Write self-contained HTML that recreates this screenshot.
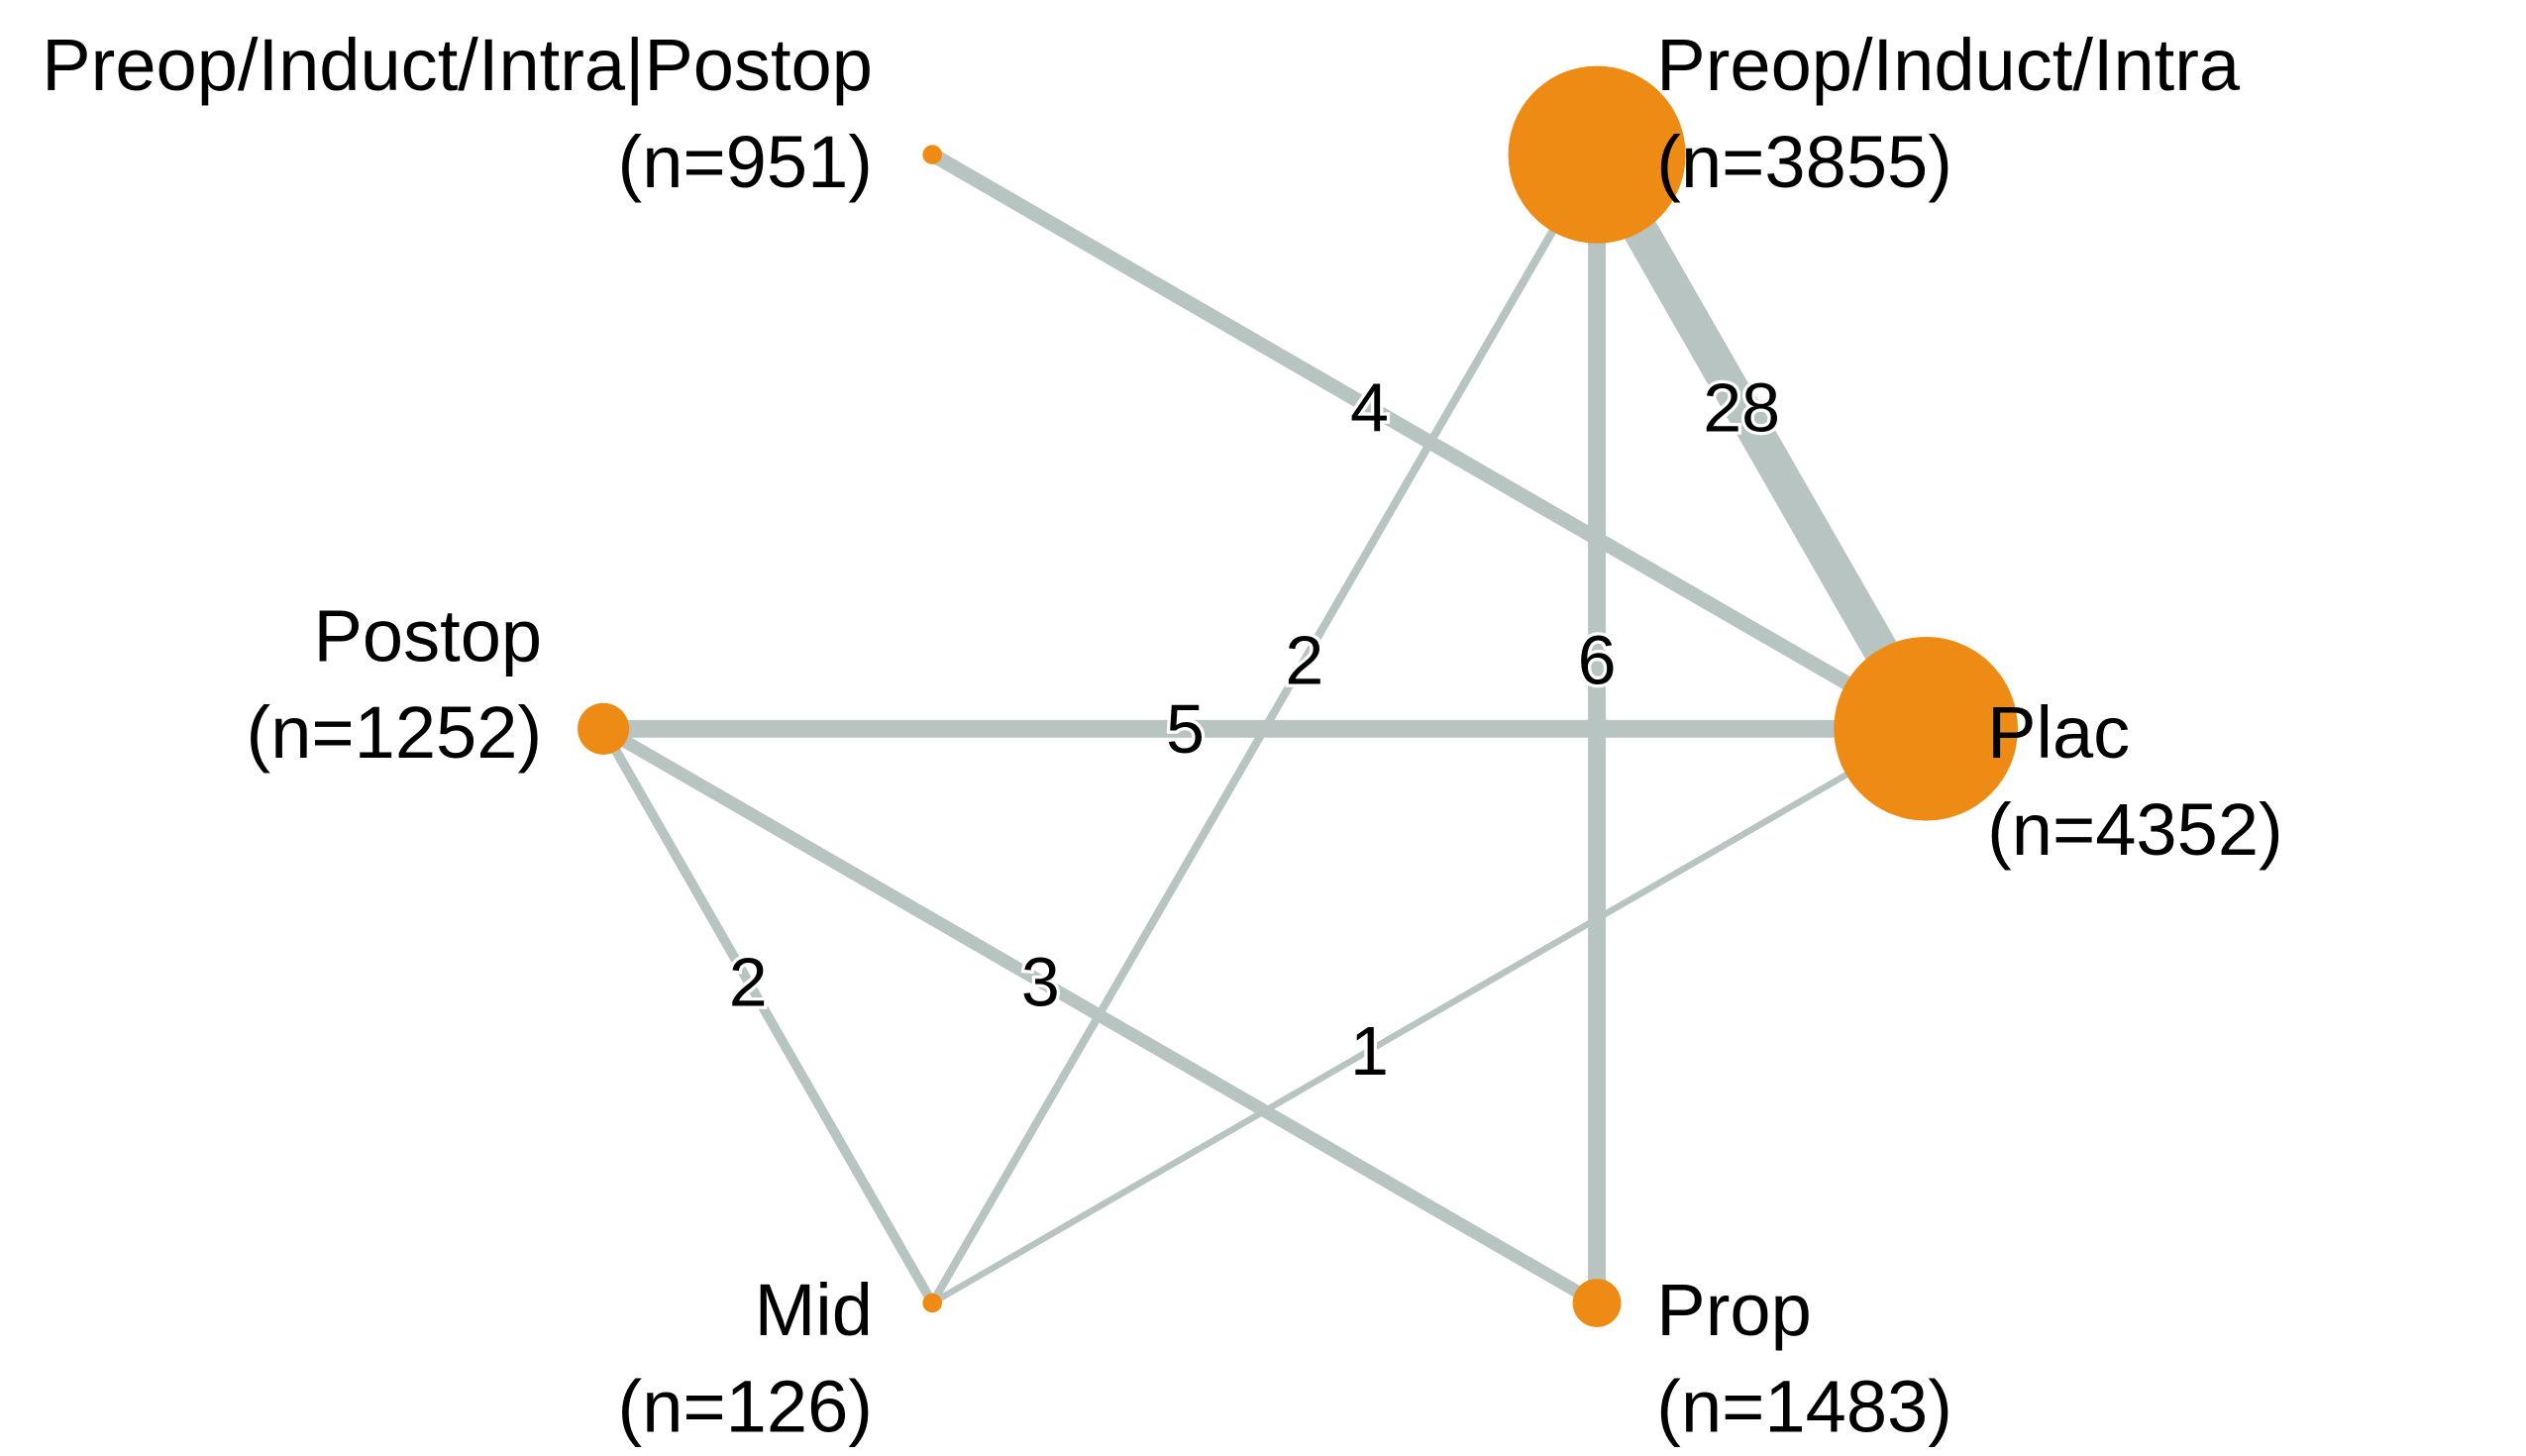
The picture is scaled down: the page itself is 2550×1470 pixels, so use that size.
<!DOCTYPE html>
<html><head><meta charset="utf-8">
<style>
html,body{margin:0;padding:0;background:#fff;}
svg{display:block;}
text{font-family:"Liberation Sans",Arial,sans-serif;}
</style></head>
<body>
<svg id="chart" width="2550" height="1470" viewBox="0 0 1566 903" preserveAspectRatio="none" xmlns="http://www.w3.org/2000/svg">
<g id="edges"></g>
<g id="nodes"></g>
<g id="labels"></g>
</svg>
<script>
const nodeNames = ["Preop/Induct/Intra|Postop","Preop/Induct/Intra","Plac","Prop","Mid","Postop"];
const nodeN = [951,3855,4352,1483,126,1252];
const nodeSize = [6,55,57,15,6,16];
const edgeFrom = [1,0,1,1,5,5,5,4];
const edgeTo   = [2,2,4,3,2,4,3,2];
const edgeCount = [28,4,2,6,5,2,3,1];
const edgeWidth = [22,9,5,11,11,6,8,4];

const NS="http://www.w3.org/2000/svg";
const cx=990-206, cy=452, R=412;
const angles=[-120,-60,0,60,120,180];
function px(i){return cx+R*Math.cos(angles[i]*Math.PI/180)*(i===2||i===5?0.995:1);}
function py(i){return cy+R*Math.sin(angles[i]*Math.PI/180)*0.998;}
const gE=document.getElementById('edges'),gN=document.getElementById('nodes'),gL=document.getElementById('labels');
function mk(tag,attrs,parent){const e=document.createElementNS(NS,tag);for(const k in attrs)e.setAttribute(k,attrs[k]);parent.appendChild(e);return e;}
for(let k=0;k<edgeFrom.length;k++){
  const a=edgeFrom[k],b=edgeTo[k];
  const l=mk('line',{x1:px(a),y1:py(a),x2:px(b),y2:py(b),stroke:'#b7c4c2','stroke-width':edgeWidth[k]},gE);
  
  
  const t=0.44;
  const x=px(a)+t*(px(b)-px(a)), y=py(a)+t*(py(b)-py(a));
  const tx=mk('text',{x:x,y:y+15,'text-anchor':'middle','font-size':43,fill:'#000',stroke:'#fff','stroke-width':4,'paint-order':'stroke'},gL);
  tx.textContent=edgeCount[k];
  
  
}
const anchors=['end','start','start','start','end','end'];
const lx=[541,1027,1232,1027,541,336];
const ly=[56,56,470,828,828,410];
for(let i=0;i<nodeNames.length;i++){
  const c=mk('circle',{cx:px(i),cy:py(i),r:nodeSize[i],fill:'#ee8b15'},gN);
  
  
  const t1=mk('text',{x:lx[i],y:ly[i],'text-anchor':anchors[i],'font-size':45.5,fill:'#000'},gL);
  t1.textContent=nodeNames[i];
  
  
  const t2=mk('text',{x:lx[i],y:ly[i]+60,'text-anchor':anchors[i],'font-size':45.5,fill:'#000'},gL);
  t2.textContent='(n='+nodeN[i]+')';
  
  
}
</script>
</body></html>
